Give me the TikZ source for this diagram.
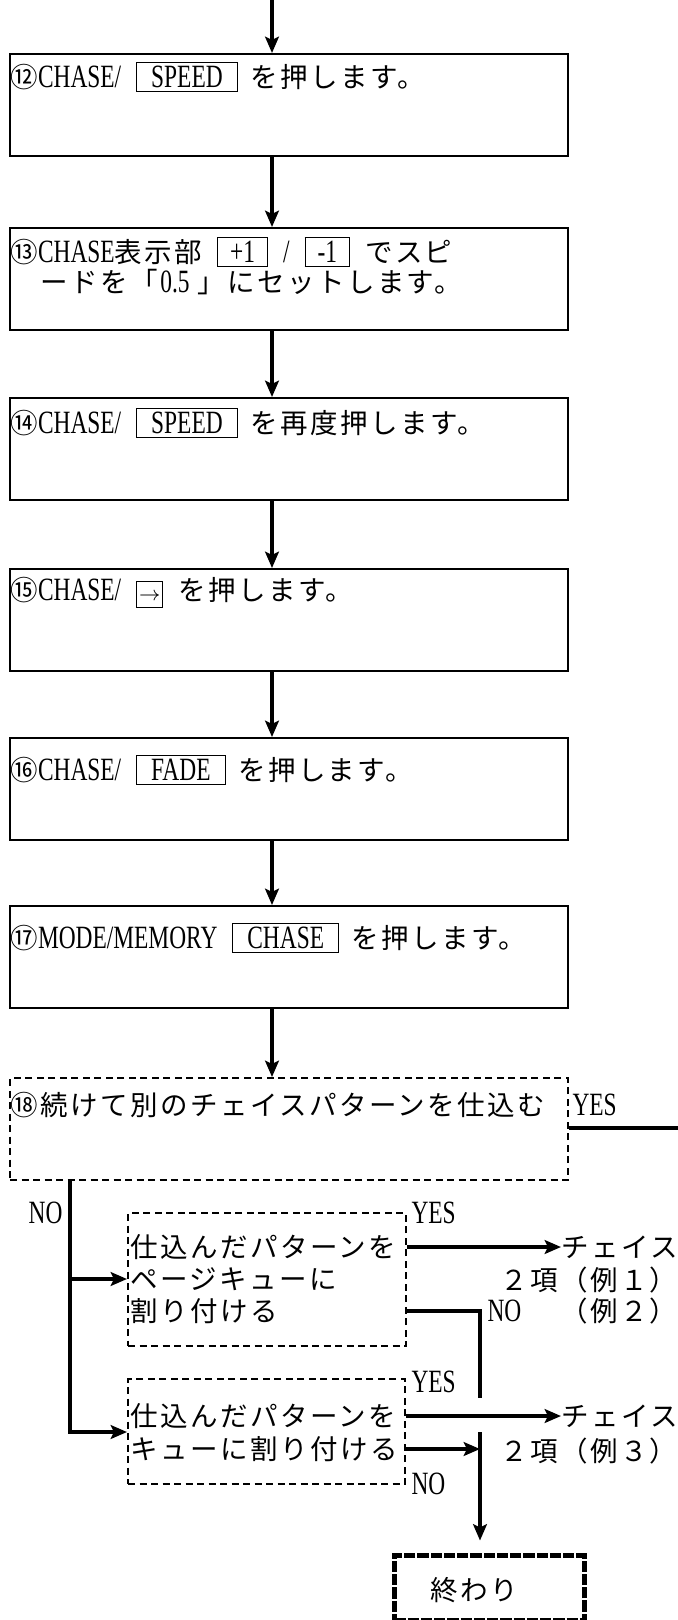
\documentclass[tikz,border=0pt]{standalone}
\usepackage{fontspec}
\setmainfont{Noto Sans CJK JP}[LetterSpace=9]
\newfontfamily\enfont{Liberation Serif}[FakeStretch=0.72]
\usetikzlibrary{arrows.meta}

\newcommand\enf{\enfont\fontsize{13}{14}\selectfont}
\newcommand\en[1]{{\enf #1}}
\newcommand\keycap[2][4.3pt]{{\setlength\fboxsep{1.3pt}\setlength\fboxrule{0.4pt}\fbox{\hspace{#1}\en{#2}\hspace{#1}}}}
\newcommand\arrowkey{{\setlength\fboxsep{0.8pt}\setlength\fboxrule{0.4pt}\fbox{\raisebox{0pt}[6.8pt][1.8pt]{$\scriptstyle\rightarrow$}}}}

\begin{document}
\begin{tikzpicture}[x=0.4pt, y=-0.4pt,
    stepbox/.style={draw, line width=0.8pt, anchor=north west, inner sep=0,
      minimum width=223.2pt, minimum height=40.8pt},
    askbox/.style={draw, line width=0.8pt, dash pattern=on 2.8pt off 1.8pt,
      anchor=north west, inner sep=0},
    endbox/.style={draw, line width=1.8pt, dash pattern=on 4.5pt off 0.8pt,
      anchor=north west, inner sep=0, minimum width=76pt, minimum height=26pt},
    txt/.style={anchor=west, inner sep=0, font=\fontsize{11}{13}\selectfont},
    lbl/.style={anchor=west, inner sep=0, font=\enf},
    flow/.style={line width=1.4pt, -{Stealth[length=6.5pt, width=5.5pt, inset=1.3pt]}},
    wire/.style={line width=1.4pt}]
  \useasboundingbox (0,0) rectangle (678,1620);

  % steps 12-18
  \coordinate (top) at (272,0);
  \foreach \n/\y in {12/53, 13/227, 14/397, 15/568, 16/737, 17/905}
    \node[stepbox] (s\n) at (9,\y) {};
  \node[stepbox, dash pattern=on 2.8pt off 1.8pt] (s18) at (9,1077) {};

  \node[txt] (t12) at (10,77) {⑫\en{CHASE/}\hspace{6pt}\keycap{SPEED}\hspace{5pt}を押します。};
  \node[txt] (t13) at (10,252) {⑬\en{CHASE}表示部\hspace{6pt}\keycap[3.5pt]{+1}\hspace{6pt}\en{/}\hspace{6pt}\keycap[3.5pt]{-1}\hspace{6pt}でスピ};
  \node[txt] (t13b) at (40,282) {ードを「\hspace{1pt}\en{0.5}\hspace{3pt}」にセットします。};
  \node[txt] (t14) at (10,423) {⑭\en{CHASE/}\hspace{6pt}\keycap{SPEED}\hspace{5pt}を再度押します。};
  \node[txt] (t15) at (10,593) {⑮\en{CHASE/}\hspace{6pt}\arrowkey\hspace{6pt}を押します。};
  \node[txt] (t16) at (10,770) {⑯\en{CHASE/}\hspace{6pt}\keycap{FADE}\hspace{5pt}を押します。};
  \node[txt] (t17) at (10,938) {⑰\en{MODE/MEMORY}\hspace{6pt}\keycap{CHASE}\hspace{5pt}を押します。};
  \node[txt] (t18) at (10,1105) {⑱続けて別のチェイスパターンを仕込む};

  \draw[flow] (top) -- (s12.north -| top);
  \foreach \a/\b in {12/13, 13/14, 14/15, 15/16, 16/17, 17/18}
    \draw[flow] (s\a.south -| top) -- (s\b.north -| top);

  % YES / NO of step 18
  \node[lbl] (y18) at (572,1105) {YES};
  \coordinate (yesout) at (678,1128);
  \draw[wire] (s18.east |- yesout) -- (yesout);
  \node[lbl, anchor=east] (n18) at (63,1213) {NO};
  \coordinate (noA) at (70,1279);
  \coordinate (noB) at (70,1432);

  % cue assignment questions
  \node[askbox, minimum width=111.2pt, minimum height=53.2pt] (qA) at (127,1212) {};
  \node[txt] (qA1) at (130,1247) {仕込んだパターンを};
  \node[txt] (qA2) at (130,1279) {ページキューに};
  \node[txt] (qA3) at (130,1311) {割り付ける};
  \node[askbox, minimum width=110.8pt, minimum height=42pt] (qB) at (127,1378) {};
  \node[txt] (qB1) at (130,1416) {仕込んだパターンを};
  \node[txt] (qB2) at (130,1449) {キューに割り付ける};

  \draw[flow] (s18.south -| noA) -- (noB) -- (qB.west |- noB);
  \draw[flow] (noA) -- (qA.west |- noA);

  \node[lbl] (yA) at (411,1213) {YES};
  \node[lbl] (nA) at (487,1311) {NO};
  \node[lbl] (yB) at (411,1382) {YES};
  \node[lbl] (nB) at (411,1484) {NO};

  \node[txt] (chA) at (561,1247) {チェイス};
  \node[txt, anchor=east] (exA1) at (678,1280) {２項（例１）};
  \node[txt, anchor=east] (exA2) at (678,1311) {（例２）};
  \node[txt] (chB) at (561,1416) {チェイス};
  \node[txt, anchor=east] (exB) at (678,1451) {２項（例３）};

  \draw[flow] (qA.east |- qA1) -- (chA.west);
  \draw[flow] (qB.east |- qB1) -- (chB.west);

  % end, with a hop over the YES line
  \coordinate (hopT) at (480,1398);
  \coordinate (hopB) at (480,1432);
  \draw[wire] (qA.east |- qA3) -- (hopT |- qA3) -- (hopT);
  \draw[flow] (qB.east |- qB2) -- (hopB |- qB2);
  \node[endbox] (fin) at (392,1553) {};
  \node[txt] (fint) at (430,1590) {終わり};
  \draw[flow, shorten >=5pt] (hopB) -- (fin.north -| hopB);
\end{tikzpicture}
\end{document}
